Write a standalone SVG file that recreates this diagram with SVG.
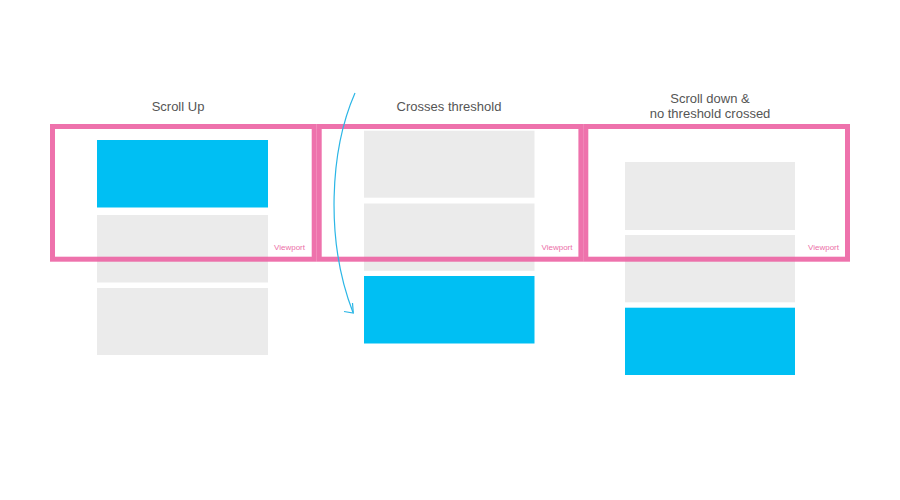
<svg xmlns="http://www.w3.org/2000/svg" width="900" height="500" viewBox="0 0 900 500">
<style>
.gray{fill:#ebebeb}
.blue{fill:#00bff3}
.frame{fill:none;stroke:#ec5fa0;stroke-width:5;stroke-opacity:0.88}
.title{font-family:"Liberation Sans",Arial,sans-serif;font-size:13px;fill:#555;text-anchor:middle}
.vp{font-family:"Liberation Sans",Arial,sans-serif;font-size:8px;fill:#ec6fa8;text-anchor:end}
.arrow{fill:none;stroke:#2bb6e6;stroke-width:1.2}
</style>
<rect width="900" height="500" fill="#fff"/>
<g id="panel-scroll-up">
<text class="title" x="178" y="111">Scroll Up</text>
<rect class="blue" x="97" y="140" width="171" height="67.5"/>
<rect class="gray" x="97" y="215" width="171" height="67.5"/>
<rect class="gray" x="97" y="288" width="171" height="67"/>
<rect class="frame" x="52.5" y="126.5" width="261.7" height="132.7"/>
<text class="vp" x="305" y="249.5">Viewport</text>
</g>
<g id="panel-crosses-threshold">
<text class="title" x="449" y="111">Crosses threshold</text>
<rect class="gray" x="364" y="130.7" width="170.5" height="67"/>
<rect class="gray" x="364" y="203.5" width="170.5" height="67.3"/>
<rect class="blue" x="364" y="276" width="170.5" height="67.5"/>
<rect class="frame" x="319.2" y="126.5" width="261.7" height="132.7"/>
<text class="vp" x="572.5" y="249.5">Viewport</text>
</g>
<g id="panel-scroll-down">
<text class="title" x="710" y="103">Scroll down &amp;</text>
<text class="title" x="710" y="117.5">no threshold crossed</text>
<rect class="gray" x="625" y="162" width="170" height="68"/>
<rect class="gray" x="625" y="235" width="170" height="67.3"/>
<rect class="blue" x="625" y="307.7" width="170" height="67.3"/>
<rect class="frame" x="585.8" y="126.5" width="261.7" height="132.7"/>
<text class="vp" x="839" y="249.5">Viewport</text>
</g>
<g id="connectors">
<path class="arrow" d="M355,93 C330,150 325,240 353,312.5"/>
<polyline class="arrow" points="344,311.5 353.3,313 352.5,303"/>
</g>
</svg>
